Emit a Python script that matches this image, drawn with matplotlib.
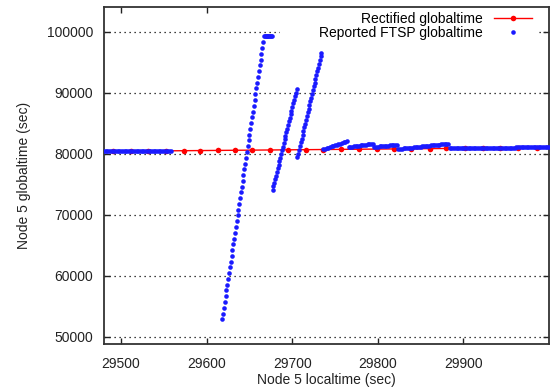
import matplotlib
matplotlib.use("Agg")
import matplotlib.pyplot as plt
from matplotlib.patches import Rectangle

plt.rcParams['font.family'] = ['Liberation Sans', 'DejaVu Sans']

# ---- data ----
rect_x = [29469, 29490, 29511, 29531, 29552, 29573, 29592, 29613, 29633, 29653,
          29674, 29695, 29716, 29736, 29757, 29778, 29799, 29819, 29839, 29861,
          29880, 29902, 29923, 29943, 29964, 29986, 30006]
rect_y = [80416, 80441, 80466, 80490, 80515, 80540, 80563, 80588, 80611, 80635,
          80660, 80685, 80710, 80734, 80759, 80784, 80809, 80832, 80856, 80883,
          80905, 80931, 80957, 80980, 81005, 81031, 81055]

segA_x = [29480, 29482, 29484, 29486, 29488, 29490, 29492, 29494, 29496, 29498,
          29500, 29502, 29504, 29506, 29508, 29510, 29512, 29514, 29516, 29518,
          29520, 29522, 29524, 29526, 29528, 29530, 29532, 29534, 29536, 29538,
          29540, 29542, 29544, 29546, 29548, 29550, 29552, 29554, 29556, 29558]
segA_y = [80470, 80478, 80472, 80480, 80475, 80482, 80477, 80485, 80480, 80488,
          80483, 80490, 80486, 80492, 80488, 80495, 80490, 80497, 80493, 80500,
          80495, 80502, 80498, 80505, 80500, 80507, 80503, 80509, 80505, 80512,
          80507, 80514, 80510, 80516, 80512, 80518, 80514, 80520, 80516, 80522]

steep1_x = [29618, 29619, 29620, 29621, 29622, 29623, 29624, 29625, 29626, 29627,
            29628, 29629, 29630, 29631, 29632, 29633, 29634, 29635, 29636, 29637,
            29638, 29639, 29640, 29641, 29642, 29643, 29644, 29645, 29646, 29647,
            29648, 29649, 29650, 29651, 29652, 29653, 29654, 29655, 29656, 29657,
            29658, 29659, 29660, 29661, 29662, 29663, 29664, 29665, 29666]
steep1_y = [52900, 53846, 54792, 55738, 56684, 57630, 58576, 59522, 60468, 61414,
            62360, 63306, 64252, 65198, 66144, 67090, 68036, 68982, 69928, 70874,
            71820, 72766, 73712, 74658, 75604, 76550, 77496, 78442, 79388, 80334,
            81280, 82226, 83172, 84118, 85064, 86010, 86956, 87902, 88848, 89794,
            90740, 91686, 92632, 93578, 94524, 95470, 96416, 97362, 98308]

top_x = [29667, 29668, 29669, 29670, 29671, 29672, 29673, 29674, 29675, 29676]
top_y = [99280, 99300, 99290, 99310, 99300, 99320, 99300, 99310, 99300, 99320]

steep2_x = [29677, 29678, 29679, 29680, 29681, 29682, 29683, 29684, 29685, 29686,
            29687, 29688, 29689, 29690, 29691, 29692, 29693, 29694, 29695, 29696,
            29697, 29698, 29699, 29700, 29701, 29702, 29703, 29704, 29705]
steep2_y = [74100, 74691, 75283, 75874, 76466, 77057, 77649, 78240, 78831, 79423,
            80014, 80606, 81197, 81789, 82380, 82971, 83563, 84154, 84746, 85337,
            85929, 86520, 87111, 87703, 88294, 88886, 89477, 90069, 90660]

steep3_x = [29706, 29707, 29708, 29709, 29710, 29711, 29712, 29713, 29714, 29715,
            29716, 29717, 29718, 29719, 29720, 29721, 29722, 29723, 29724, 29725,
            29726, 29727, 29728, 29729, 29730, 29731, 29732, 29733, 29734]
steep3_y = [79460, 80073, 80685, 81298, 81910, 82523, 83135, 83748, 84360, 84973,
            85585, 86198, 86810, 87423, 88035, 88648, 89260, 89873, 90485, 91098,
            91710, 92323, 92935, 93548, 94160, 94773, 95385, 95998, 96610]

segB_x = [29736, 29738, 29740, 29742, 29744, 29746, 29748, 29750, 29752, 29754,
          29756, 29758, 29760, 29762, 29764]
segB_y = [80770, 80864, 80957, 81051, 81144, 81238, 81331, 81425, 81519, 81612,
          81706, 81799, 81893, 81986, 82080]

segC_x = [29766, 29768, 29770, 29772, 29774, 29776, 29778, 29780, 29782, 29784,
          29786, 29788, 29790, 29792, 29794]
segC_y = [81150, 81187, 81224, 81261, 81299, 81336, 81373, 81410, 81447, 81484,
          81521, 81559, 81596, 81633, 81670]

segD_x = [29796, 29798, 29800, 29802, 29804, 29806, 29808, 29810, 29812, 29814,
          29816, 29818, 29820, 29822]
segD_y = [81170, 81195, 81221, 81246, 81272, 81297, 81323, 81348, 81373, 81399,
          81424, 81450, 81475, 81500]

segE_x = [29824, 29826, 29828, 29830, 29832, 29834, 29836, 29838, 29840, 29842,
          29844, 29846, 29848, 29850, 29852, 29854, 29856, 29858, 29860, 29862,
          29864, 29866, 29868, 29870, 29872, 29874, 29876, 29878, 29880, 29882]
segE_y = [80820, 80850, 80881, 80911, 80941, 80972, 81002, 81032, 81063, 81093,
          81123, 81154, 81184, 81214, 81245, 81275, 81306, 81336, 81366, 81397,
          81427, 81457, 81488, 81518, 81548, 81579, 81609, 81639, 81670, 81700]

segF_x = [29884, 29886, 29888, 29890, 29892, 29894, 29896, 29898, 29900, 29902,
          29904, 29906, 29908, 29910, 29912, 29914, 29916, 29918, 29920, 29922,
          29924, 29926, 29928, 29930, 29932, 29934, 29936, 29938, 29940, 29942,
          29944, 29946, 29948, 29950, 29952, 29954, 29956, 29958, 29960, 29962,
          29964, 29966, 29968, 29970, 29972, 29974, 29976, 29978, 29980, 29982,
          29984, 29986, 29988, 29990, 29992, 29994, 29996, 29998, 30000]
segF_y = [80950, 80953, 80956, 80959, 80962, 80965, 80968, 80971, 80974, 80977,
          80980, 80983, 80986, 80989, 80992, 80995, 80998, 81001, 81004, 81007,
          81010, 81013, 81016, 81019, 81022, 81025, 81028, 81031, 81034, 81037,
          81040, 81043, 81046, 81049, 81052, 81055, 81058, 81061, 81064, 81067,
          81070, 81073, 81076, 81079, 81082, 81085, 81088, 81091, 81094, 81097,
          81100, 81103, 81106, 81109, 81112, 81115, 81118, 81120, 81122]

x_ticks = [29500, 29600, 29700, 29800, 29900]
y_ticks = [50000, 60000, 70000, 80000, 90000, 100000]

rep_x = segA_x + steep1_x + top_x + steep2_x + steep3_x + segB_x + segC_x + segD_x + segE_x + segF_x
rep_y = segA_y + steep1_y + top_y + steep2_y + steep3_y + segB_y + segC_y + segD_y + segE_y + segF_y

# ---- figure ----
W, H = 553, 389
fig = plt.figure(figsize=(W / 100, H / 100), dpi=100)
ax = fig.add_axes([104 / W, 1 - 344 / H, 445 / W, 337 / H])

ax.plot(rect_x, rect_y, color='#ff0000', lw=1.0, marker='o', ms=4.0,
        markeredgewidth=0, label='Rectified globaltime', zorder=3)
ax.plot(rep_x, rep_y, linestyle='none', color='#1a1aff', marker='o', ms=3.3,
        markeredgewidth=0, label='Reported FTSP globaltime', zorder=4)

ax.set_xlim(29480, 30000)
ax.set_ylim(48852, 104098)
ax.set_xticks(x_ticks)
ax.set_yticks(y_ticks)
ax.set_xticklabels([str(v) for v in x_ticks])
ax.set_yticklabels([str(v) for v in y_ticks])
ax.tick_params(direction='in', length=4, width=1, top=True, right=True,
               labelsize=10, colors='#222222', pad=8)
ax.tick_params(axis='x', pad=9)
ax.yaxis.grid(True, linestyle=(0, (1, 3)), color='black', lw=0.9)
ax.set_axisbelow(True)
for s in ax.spines.values():
    s.set_linewidth(1.3)
    s.set_color('#333333')

ax.set_xlabel('Node 5 localtime (sec)', fontsize=10, color='#222222', labelpad=2)
ax.set_ylabel('Node 5 globaltime (sec)', fontsize=10, color='#222222', labelpad=11)

# white key area (as in the reference, hides the grid behind the key)
ax.add_patch(Rectangle(((280 - 104) / 445, (344 - 42) / 337), (538 - 280) / 445,
                       (42 - 7) / 337, transform=ax.transAxes, facecolor='white',
                       edgecolor='none', zorder=1))

leg = ax.legend(loc='upper right', bbox_to_anchor=((536 - 104) / 445, 0.998),
                markerfirst=False, fontsize=10, frameon=True,
                framealpha=1, edgecolor='none', facecolor='white', fancybox=False,
                handlelength=2.7, handletextpad=0.8, labelspacing=0.0,
                borderpad=0.3, borderaxespad=0.0, numpoints=1)
leg.set_zorder(10)

fig.savefig('out.png', dpi=100)
